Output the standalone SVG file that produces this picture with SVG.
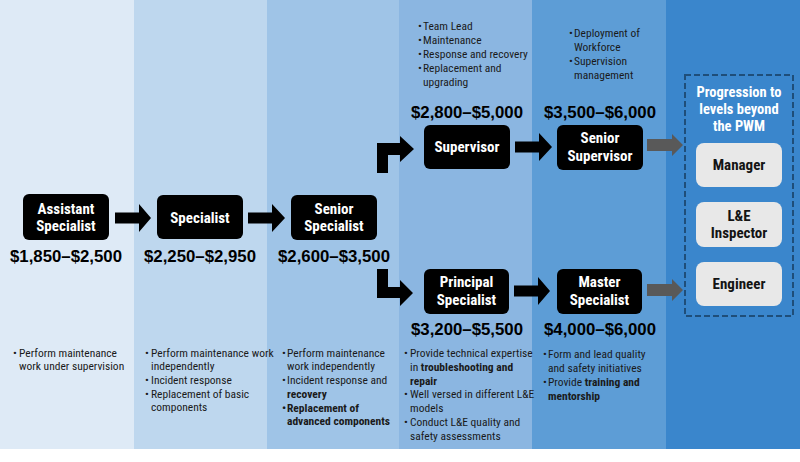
<svg xmlns="http://www.w3.org/2000/svg" width="800" height="462" viewBox="0 0 800 462">
<style>
.t{font-family:"Liberation Sans Narrow","Arial Narrow","Roboto Condensed","Liberation Sans",sans-serif;font-weight:bold;font-size:15px;fill:#fff;text-anchor:middle}
.h{font-size:14.5px}
.g{fill:#141414}
.p{font-family:"Liberation Sans",Arial,sans-serif;font-weight:bold;font-size:16.8px;fill:#000;text-anchor:middle}
.b{font-family:"Liberation Sans Narrow","Arial Narrow","Roboto Condensed","Liberation Sans",sans-serif;font-size:11.5px;fill:#1a1a1a}
.bb{font-weight:bold}
.box{fill:#000}
.gbox{fill:#e8e8e8}
.arr{fill:#000}
.garr{fill:#595959}
</style>
<rect x="0" y="0" width="800" height="462" fill="#fff"/>
<g id="columns">
<rect x="0" y="0" width="134" height="449" fill="#deeaf6"/>
<rect x="134" y="0" width="133" height="449" fill="#bed7ee"/>
<rect x="267" y="0" width="132" height="449" fill="#9fc4e7"/>
<rect x="399" y="0" width="133" height="449" fill="#8bb6e1"/>
<rect x="532" y="0" width="134" height="449" fill="#5d9dd6"/>
<rect x="666" y="0" width="134" height="449" fill="#3a86cc"/>
</g>
<g id="connectors">
<path class="arr" d="M115,212.5 H139 V204 L151,218 L139,232 V223.5 H115 Z"/>
<path class="arr" d="M248,212.5 H272 V204 L285,218 L272,232 V223.5 H248 Z"/>
<path class="arr" d="M515,141.5 H539 V133 L552,147 L539,161 V152.5 H515 Z"/>
<path class="arr" d="M514,285.5 H538 V277 L550,291 L538,305 V296.5 H514 Z"/>
<path class="arr" d="M377,173 V143 H400 V136 L414,149 L400,162 V155 H388 V173 Z"/>
<path class="arr" d="M377,269 H388 V287 H400 V280 L413,293 L400,306 V298 H377 Z"/>
<path class="garr" d="M647,139 H672 V134 L683,145 L672,156 V151 H647 Z"/>
<path class="garr" d="M647,284 H672 V279 L683,290 L672,301 V296 H647 Z"/>
</g>
<g id="assistant-specialist">
<rect class="box" x="23" y="194" width="86" height="46" rx="6"/>
<text class="t" x="66" y="214">Assistant</text>
<text class="t" x="66" y="231">Specialist</text>
<text class="p" x="66" y="262">$1,850–$2,500</text>
</g>
<g id="specialist">
<rect class="box" x="157" y="195" width="86" height="44" rx="6"/>
<text class="t" x="200" y="223">Specialist</text>
<text class="p" x="200" y="262">$2,250–$2,950</text>
</g>
<g id="senior-specialist">
<rect class="box" x="291" y="195" width="86" height="45" rx="6"/>
<text class="t" x="334" y="214">Senior</text>
<text class="t" x="334" y="231">Specialist</text>
<text class="p" x="334" y="262">$2,600–$3,500</text>
</g>
<g id="supervisor">
<text class="p" x="467" y="118">$2,800–$5,000</text>
<rect class="box" x="424" y="125" width="86" height="44" rx="6"/>
<text class="t" x="467" y="152">Supervisor</text>
</g>
<g id="senior-supervisor">
<text class="p" x="600" y="118">$3,500–$6,000</text>
<rect class="box" x="557" y="125" width="86" height="45" rx="6"/>
<text class="t" x="600" y="143">Senior</text>
<text class="t" x="600" y="161">Supervisor</text>
</g>
<g id="principal-specialist">
<rect class="box" x="424" y="269" width="85" height="45" rx="6"/>
<text class="t" x="466.5" y="287">Principal</text>
<text class="t" x="466.5" y="305">Specialist</text>
<text class="p" x="467" y="335">$3,200–$5,500</text>
</g>
<g id="master-specialist">
<rect class="box" x="557" y="269" width="85" height="45" rx="6"/>
<text class="t" x="599.5" y="287">Master</text>
<text class="t" x="599.5" y="305">Specialist</text>
<text class="p" x="600" y="335">$4,000–$6,000</text>
</g>
<g id="beyond-pwm">
<rect x="685" y="75" width="108" height="241" fill="none" stroke="#1f4e79" stroke-width="2" stroke-dasharray="6 3"/>
<text class="t h" x="739" y="97">Progression to</text>
<text class="t h" x="739" y="114">levels beyond</text>
<text class="t h" x="739" y="131">the PWM</text>
</g>
<g id="manager">
<rect class="gbox" x="696" y="143" width="86" height="44" rx="8"/>
<text class="t g" x="739" y="170">Manager</text>
</g>
<g id="le-inspector">
<rect class="gbox" x="696" y="202" width="86" height="45" rx="8"/>
<text class="t g" x="739" y="221">L&amp;E</text>
<text class="t g" x="739" y="238">Inspector</text>
</g>
<g id="engineer">
<rect class="gbox" x="696" y="262" width="86" height="44" rx="8"/>
<text class="t g" x="739" y="289">Engineer</text>
</g>
<g id="notes">
<text class="b"><tspan x="418" y="30">•</tspan><tspan x="423">Team Lead</tspan></text>
<text class="b"><tspan x="418" y="44">•</tspan><tspan x="423">Maintenance</tspan></text>
<text class="b"><tspan x="418" y="58">•</tspan><tspan x="423">Response and recovery</tspan></text>
<text class="b"><tspan x="418" y="72">•</tspan><tspan x="423">Replacement and</tspan></text>
<text class="b" x="423" y="86">upgrading</text>

<text class="b"><tspan x="569" y="37">•</tspan><tspan x="574">Deployment of</tspan></text>
<text class="b" x="574" y="51">Workforce</text>
<text class="b"><tspan x="569" y="65">•</tspan><tspan x="574">Supervision</tspan></text>
<text class="b" x="574" y="79">management</text>

<text class="b"><tspan x="13" y="357">•</tspan><tspan x="19">Perform maintenance</tspan></text>
<text class="b" x="19" y="370">work under supervision</text>

<text class="b"><tspan x="145" y="357">•</tspan><tspan x="151">Perform maintenance work</tspan></text>
<text class="b" x="151" y="370">independently</text>
<text class="b"><tspan x="145" y="384">•</tspan><tspan x="151">Incident response</tspan></text>
<text class="b"><tspan x="145" y="398">•</tspan><tspan x="151">Replacement of basic</tspan></text>
<text class="b" x="151" y="411">components</text>

<text class="b"><tspan x="282" y="357">•</tspan><tspan x="287">Perform maintenance</tspan></text>
<text class="b" x="287" y="370">work independently</text>
<text class="b"><tspan x="282" y="384">•</tspan><tspan x="287">Incident response and</tspan></text>
<text class="b bb" x="287" y="398">recovery</text>
<text class="b bb"><tspan x="282" y="412">•</tspan><tspan x="287">Replacement of</tspan></text>
<text class="b bb" x="287" y="425">advanced components</text>

<text class="b"><tspan x="404" y="357">•</tspan><tspan x="410">Provide technical expertise</tspan></text>
<text class="b" x="410" y="371">in <tspan class="bb">troubleshooting and</tspan></text>
<text class="b bb" x="410" y="385">repair</text>
<text class="b"><tspan x="404" y="398">•</tspan><tspan x="410">Well versed in different L&amp;E</tspan></text>
<text class="b" x="410" y="412">models</text>
<text class="b"><tspan x="404" y="426">•</tspan><tspan x="410">Conduct L&amp;E quality and</tspan></text>
<text class="b" x="410" y="440">safety assessments</text>

<text class="b"><tspan x="543" y="358">•</tspan><tspan x="548">Form and lead quality</tspan></text>
<text class="b" x="548" y="372">and safety initiatives</text>
<text class="b"><tspan x="543" y="386">•</tspan><tspan x="548">Provide </tspan><tspan class="bb">training and</tspan></text>
<text class="b bb" x="548" y="400">mentorship</text>
</g>
</svg>
